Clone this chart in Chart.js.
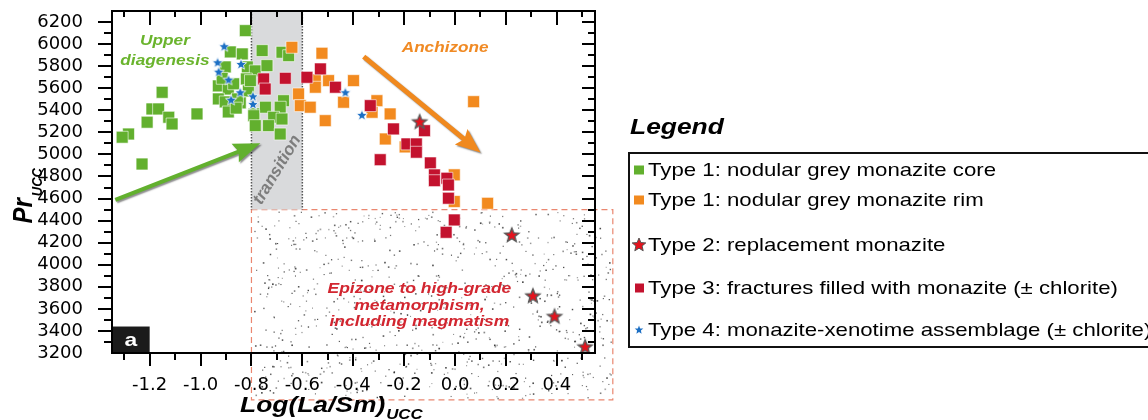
<!DOCTYPE html>
<html>
<head>
<meta charset="utf-8">
<title>Pr(UCC) vs Log(La/Sm)(UCC)</title>
<script src="https://cdn.jsdelivr.net/npm/chart.js@4.4.1/dist/chart.umd.min.js"></script>
<style>
  html, body { margin:0; padding:0; background:#fff; }
  body { width:1148px; height:420px; position:relative; overflow:hidden; font-family:"Liberation Sans", Arial, sans-serif; color:#000; }
  #grafico { position:absolute; left:0; top:0; }
  .lg-title { position:absolute; left:630px; top:114px; font-size:22px; font-weight:bold; font-style:italic; line-height:26px; transform:scaleX(1.2); transform-origin:0 0; }
  .lg-box { position:absolute; left:628px; top:152px; width:540px; height:196px; border:2px solid #111; box-sizing:border-box; }
  .lg-item { position:absolute; left:0; width:520px; height:22px; }
  .lg-item svg { position:absolute; left:2px; top:4px; }
  .lg-item .txt { position:absolute; left:18px; top:0; line-height:22px; font-size:18.5px; white-space:nowrap; transform:scaleX(1.2); transform-origin:0 50%; }
</style>
</head>
<body>
<canvas id="grafico" width="1148" height="420"></canvas>

<div class="lg-title">Legend</div>
<div class="lg-box">
  <div class="lg-item" style="top:5px">
    <svg width="14" height="14"><rect x="2" y="2.5" width="10" height="9" fill="#62b02e"/></svg>
    <span class="txt">Type 1: nodular grey monazite core</span>
  </div>
  <div class="lg-item" style="top:35px">
    <svg width="14" height="14"><rect x="2" y="2.5" width="10" height="9" fill="#f28a1f"/></svg>
    <span class="txt">Type 1: nodular grey monazite rim</span>
  </div>
  <div class="lg-item" style="top:80px">
    <svg width="16" height="16" style="top:3px;left:1px"><polygon points="8,1 9.9,5.6 14.8,5.9 11.1,9 12.2,13.8 8,11.2 3.8,13.8 4.9,9 1.2,5.9 6.1,5.6" fill="#e5121d" stroke="#555" stroke-width="1"/></svg>
    <span class="txt">Type 2: replacement monazite</span>
  </div>
  <div class="lg-item" style="top:123px">
    <svg width="14" height="14"><rect x="3" y="2.5" width="9" height="9" fill="#c3122e"/></svg>
    <span class="txt">Type 3: fractures filled with monazite (± chlorite)</span>
  </div>
  <div class="lg-item" style="top:165px">
    <svg width="14" height="14"><polygon points="7,2.5 8.1,5.4 11.3,5.6 8.9,7.6 9.6,10.7 7,9 4.4,10.7 5.1,7.6 2.7,5.6 5.9,5.4" fill="#1c6fc4"/></svg>
    <span class="txt">Type 4: monazite-xenotime assemblage (± chlorite)</span>
  </div>
</div>

<script>
// ── Axis ticks ─────────────────────────────
const xTicks = [-1.2, -1.0, -0.8, -0.6, -0.4, -0.2, 0.0, 0.2, 0.4];
const yTicks = [3200, 3400, 3600, 3800, 4000, 4200, 4400, 4600, 4800, 5000, 5200, 5400, 5600, 5800, 6000, 6200];

// ── Type 1: nodular grey monazite core ─────
const coreX = [-0.824, -1.151, -1.191, -1.165, -1.125, -1.112, -1.014, -1.210, -1.283, -1.308, -1.230,
               -0.883, -0.836, -0.903, -0.816, -0.785, -0.930, -0.891, -0.820, -0.812, -0.930, -0.903,
               -0.844, -0.891, -0.789, -0.855, -0.915, -0.870, -0.860,
               -0.758, -0.680, -0.654, -0.739, -0.804, -0.674, -0.745, -0.687, -0.791, -0.713, -0.680,
               -0.733, -0.785, -0.687];
const coreY = [6122, 5563, 5412, 5412, 5337, 5276, 5367, 5292, 5185, 5156, 4913,
               5929, 5911, 5793, 5793, 5757, 5621, 5593, 5684, 5575, 5503, 5476,
               5467, 5385, 5367, 5503, 5690, 5640, 5420,
               5941, 5926, 5895, 5805, 5669, 5487, 5428, 5428, 5351, 5337, 5321,
               5261, 5261, 5185];

// ── Type 1: nodular grey monazite rim ──────
const rimX = [-0.641, -0.523, -0.549, -0.497, -0.399, -0.549, -0.615, -0.608, -0.569, -0.438,
              -0.510, -0.307, -0.326, -0.255, -0.274, 0.073, -0.196, -0.003, -0.003, 0.128];
const rimY = [5971, 5917, 5675, 5669, 5669, 5609, 5548, 5442, 5428, 5473,
              5306, 5487, 5382, 5367, 5140, 5478, 5068, 4815, 4573, 4557];

// ── Type 2: replacement monazite ───────────
const replX = [-0.139, 0.223, 0.306, 0.391, 0.511];
const replY = [5297, 4270, 3719, 3533, 3257];

// ── Type 3: fractures filled with monazite ─
const fracX = [-0.752, -0.746, -0.667, -0.529, -0.582, -0.470, -0.333, -0.242, -0.120, -0.189, -0.152,
               -0.152, -0.294, -0.097, -0.081, -0.081, -0.032, -0.026, -0.026, -0.003, -0.035];
const fracY = [5684, 5593, 5690, 5775, 5699, 5609, 5442, 5231, 5215, 5095, 5095,
               5020, 4952, 4923, 4814, 4762, 4784, 4723, 4603, 4406, 4294];

// ── Type 4: monazite-xenotime assemblage ───
const xenoX = [-0.907, -0.933, -0.929, -0.841, -0.890, -0.844, -0.880, -0.794, -0.794, -0.431, -0.366];
const xenoY = [5981, 5835, 5750, 5820, 5678, 5563, 5496, 5527, 5457, 5563, 5358];

// ── Helpers ────────────────────────────────
const pts = (xs, ys) => xs.map((v, i) => ({ x: v, y: ys[i] }));

function starIcon(rOut, fill, stroke, lw) {
    const s = Math.ceil(rOut * 2 + lw * 2 + 2);
    const c = document.createElement('canvas');
    c.width = c.height = s;
    const g = c.getContext('2d');
    g.translate(s / 2, s / 2 + 0.5);
    g.beginPath();
    for (let i = 0; i < 10; i++) {
        const r = i % 2 ? rOut * 0.44 : rOut;
        const a = -Math.PI / 2 + i * Math.PI / 5;
        g.lineTo(r * Math.cos(a), r * Math.sin(a));
    }
    g.closePath();
    g.fillStyle = fill;
    g.fill();
    if (lw) { g.lineWidth = lw; g.strokeStyle = stroke; g.stroke(); }
    return c;
}

// stretched text (the original figure is about 1.2x wider than tall)
function sText(ctx, str, x, y, font, color, align) {
    ctx.save();
    ctx.font = font;
    ctx.fillStyle = color;
    ctx.textAlign = align || 'center';
    ctx.textBaseline = 'alphabetic';
    ctx.translate(x, y);
    ctx.scale(1.2, 1);
    ctx.fillText(str, 0, 0);
    ctx.restore();
}

function arrow(ctx, x0, y0, x1, y1, col, w, hl, hw) {
    const ang = Math.atan2(y1 - y0, x1 - x0);
    const len = Math.hypot(x1 - x0, y1 - y0);
    ctx.save();
    ctx.translate(x0, y0);
    ctx.rotate(ang);
    ctx.shadowColor = 'rgba(0,0,0,0.45)';
    ctx.shadowOffsetX = 1.5;
    ctx.shadowOffsetY = 1.5;
    ctx.shadowBlur = 1.5;
    ctx.fillStyle = col;
    ctx.beginPath();
    ctx.moveTo(0, -w / 2);
    ctx.lineTo(len - hl, -w / 2);
    ctx.lineTo(len - hl - 3, -hw);
    ctx.lineTo(len, 0);
    ctx.lineTo(len - hl - 3, hw);
    ctx.lineTo(len - hl, w / 2);
    ctx.lineTo(0, w / 2);
    ctx.closePath();
    ctx.fill();
    ctx.restore();
}

const FONT = '"Liberation Sans", Arial, sans-serif';

// ── Decorations: zones, arrows, labels, frame ──
const decor = {
    id: 'decor',
    beforeDraw(chart) {
        const { ctx, chartArea: a, scales: { x, y } } = chart;
        ctx.save();
        ctx.fillStyle = '#fff';
        ctx.fillRect(0, 0, chart.width, chart.height);

        // epizone stippled box
        const ex0 = x.getPixelForValue(-0.8), ex1 = x.getPixelForValue(0.62);
        const ey0 = y.getPixelForValue(4500), ey1 = y.getPixelForValue(2775);
        let seed = 12345;
        const rnd = () => (seed = (seed * 16807) % 2147483647) / 2147483647;
        ctx.fillStyle = '#222';
        for (let i = 0; i < 820; i++) {
            const px = ex0 + 2 + rnd() * (ex1 - ex0 - 4);
            const py = ey0 + 2 + rnd() * (ey1 - ey0 - 4);
            const s = 1.0 + rnd() * 0.7;
            ctx.globalAlpha = 0.35 + rnd() * 0.5;
            ctx.fillRect(px, py, s, s);
        }
        ctx.globalAlpha = 1;
        ctx.setLineDash([6, 4]);
        ctx.strokeStyle = '#ea8770';
        ctx.lineWidth = 1.2;
        ctx.strokeRect(ex0, ey0, ex1 - ex0, ey1 - ey0);

        // transition band
        const bx0 = x.getPixelForValue(-0.8), bx1 = x.getPixelForValue(-0.6);
        ctx.setLineDash([]);
        ctx.fillStyle = '#d9dadc';
        ctx.fillRect(bx0, a.top, bx1 - bx0, ey0 - a.top);
        ctx.setLineDash([1.5, 1.5]);
        ctx.strokeStyle = '#555';
        ctx.lineWidth = 1.5;
        ctx.beginPath();
        ctx.moveTo(bx0, a.top); ctx.lineTo(bx0, ey0);
        ctx.moveTo(bx1, a.top); ctx.lineTo(bx1, ey0);
        ctx.stroke();
        ctx.restore();
    },
    afterDatasetsDraw(chart) {
        const { ctx, scales: { x, y } } = chart;
        const X = v => x.getPixelForValue(v), Y = v => y.getPixelForValue(v);

        arrow(ctx, X(-1.335), Y(4589), X(-0.765), Y(5102), '#62b02e', 4, 24, 10);
        arrow(ctx, X(-0.359), Y(5887), X(0.100), Y(5017), '#f0891e', 5, 22, 10);

        const bi = s => 'italic bold ' + s + 'px ' + FONT;
        sText(ctx, 'Upper', X(-1.140), Y(5993), bi(14.4), '#6ab42d');
        sText(ctx, 'diagenesis', X(-1.140), Y(5811), bi(14.4), '#6ab42d');
        sText(ctx, 'Anchizone', X(-0.039), Y(5932), bi(14.3), '#f08a24');

        sText(ctx, 'Epizone to high-grade', X(-0.140), Y(3746), bi(14.6), '#d22630');
        sText(ctx, 'metamorphism,', X(-0.140), Y(3592), bi(14.6), '#d22630');
        sText(ctx, 'including magmatism', X(-0.140), Y(3441), bi(14.6), '#d22630');

        ctx.save();
        ctx.translate(X(-0.699), Y(4860));
        ctx.rotate(-59 * Math.PI / 180);
        ctx.font = bi(17);
        ctx.fillStyle = '#7d7d7d';
        ctx.textAlign = 'center';
        ctx.textBaseline = 'middle';
        ctx.fillText('transition', 0, 0);
        ctx.restore();
    },
    afterDraw(chart) {
        const { ctx, chartArea: a, scales: { x, y } } = chart;
        ctx.save();

        // "a" panel tag
        const tx = x.getPixelForValue(-1.2), ty = y.getPixelForValue(3440);
        ctx.fillStyle = '#1b1b1b';
        ctx.fillRect(a.left, ty, tx - a.left, a.bottom - ty);
        sText(ctx, 'a', (a.left + tx) / 2, a.bottom - 7, 'bold 19px ' + FONT, '#fff');

        // frame
        ctx.strokeStyle = '#000';
        ctx.lineWidth = 2;
        ctx.strokeRect(a.left, a.top, a.right - a.left, a.bottom - a.top);

        // ticks (major + minor), outside on left/bottom, inside on right/top
        ctx.beginPath();
        const yMinor = yTicks.map(v => v + 100);
        yTicks.concat(yMinor).forEach(v => {
            const py = Math.round(y.getPixelForValue(v));
            if (py <= a.top + 1 || py >= a.bottom - 1) return;
            const L = yTicks.includes(v) ? 14 : 8;
            const R = yTicks.includes(v) ? 13 : 7;
            ctx.moveTo(a.left - L, py); ctx.lineTo(a.left, py);
            ctx.moveTo(a.right - R, py); ctx.lineTo(a.right, py);
        });
        const xMinor = xTicks.map(v => v - 0.1).concat([0.5]);
        xTicks.concat(xMinor).forEach(v => {
            const px = Math.round(x.getPixelForValue(v));
            if (px <= a.left + 1 || px >= a.right - 1) return;
            const major = xTicks.includes(v);
            ctx.moveTo(px, a.bottom); ctx.lineTo(px, a.bottom + (major ? 13 : 7));
            ctx.moveTo(px, a.top); ctx.lineTo(px, a.top + (major ? 14 : 6));
        });
        ctx.stroke();

        // axis titles
        ctx.fillStyle = '#000';
        ctx.textAlign = 'left';
        ctx.textBaseline = 'alphabetic';
        ctx.font = 'italic bold 22px ' + FONT;
        const wMain = ctx.measureText('Log(La/Sm)').width * 1.2;
        sText(ctx, 'Log(La/Sm)', 240, 412, 'italic bold 22px ' + FONT, '#000', 'left');
        sText(ctx, 'UCC', 240 + wMain + 1, 419, 'italic bold 14px ' + FONT, '#000', 'left');

        ctx.save();
        ctx.translate(31.5, 223.5);
        ctx.rotate(-Math.PI / 2);
        ctx.scale(1, 1.12);
        ctx.font = 'italic bold 24px ' + FONT;
        const wPr = ctx.measureText('Pr').width;
        ctx.fillText('Pr', 0, 0);
        ctx.font = 'italic bold 13px ' + FONT;
        ctx.fillText('UCC', wPr + 2, 9);
        ctx.restore();

        ctx.restore();
    }
};

// ── Chart ──────────────────────────────────
const squareBorder = 'rgba(255,255,255,0.6)';

new Chart(document.getElementById('grafico'), {
    type: 'scatter',
    data: {
        datasets: [
            { label: 'Type 1: nodular grey monazite core', data: pts(coreX, coreY),
              pointStyle: 'rect', pointRadius: 8.4, backgroundColor: '#62b02e',
              borderColor: squareBorder, borderWidth: 1, order: 5 },
            { label: 'Type 1: nodular grey monazite rim', data: pts(rimX, rimY),
              pointStyle: 'rect', pointRadius: 8.4, backgroundColor: '#f28a1f',
              borderColor: squareBorder, borderWidth: 1, order: 4 },
            { label: 'Type 2: replacement monazite', data: pts(replX, replY),
              pointStyle: starIcon(7.4, '#e5121d', '#5a5a5a', 1.4), pointRadius: 8, order: 2 },
            { label: 'Type 3: fractures filled with monazite (± chlorite)', data: pts(fracX, fracY),
              pointStyle: 'rect', pointRadius: 8.4, backgroundColor: '#c3122e',
              borderColor: squareBorder, borderWidth: 1, order: 3 },
            { label: 'Type 4: monazite-xenotime assemblage (± chlorite)', data: pts(xenoX, xenoY),
              pointStyle: starIcon(5.8, '#1c6fc4', '#fff', 0.8), pointRadius: 6, order: 1 }
        ]
    },
    options: {
        responsive: false,
        animation: false,
        events: [],
        layout: { padding: { left: 0, right: 553, top: 11, bottom: 0 } },
        plugins: { legend: { display: false }, tooltip: { enabled: false } },
        scales: {
            x: {
                type: 'linear',
                min: -1.348,
                max: 0.55,
                grid: { display: false },
                border: { display: false },
                afterBuildTicks: s => { s.ticks = xTicks.map(v => ({ value: v })); },
                afterFit: s => { s.height = 67; s.paddingLeft = 0; s.paddingRight = 0; },
                ticks: {
                    padding: 14,
                    maxRotation: 0,
                    autoSkip: false,
                    color: '#000',
                    font: { family: 'DejaVu Sans', size: 18 },
                    callback: v => v.toFixed(1)
                }
            },
            y: {
                type: 'linear',
                min: 3200,
                max: 6300,
                grid: { display: false },
                border: { display: false },
                afterBuildTicks: s => { s.ticks = yTicks.map(v => ({ value: v })); },
                afterFit: s => { s.width = 112; s.paddingTop = 0; s.paddingBottom = 0; },
                ticks: {
                    padding: 21,
                    autoSkip: false,
                    color: '#000',
                    font: { family: 'DejaVu Sans', size: 18 },
                    callback: v => String(v)
                }
            }
        }
    },
    plugins: [decor]
});
</script>
</body>
</html>
